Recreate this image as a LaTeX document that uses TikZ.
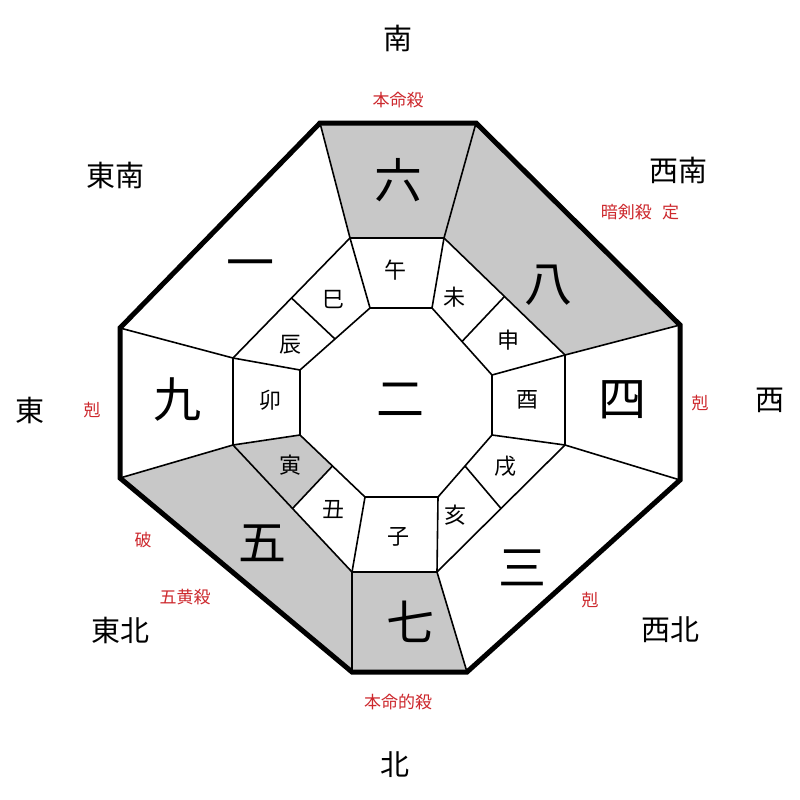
\documentclass[tikz,border=0pt]{standalone}
\usepackage{fontspec}
\usetikzlibrary{calc}
\newfontfamily\cjk{Noto Sans CJK JP}
\begin{document}
\begin{tikzpicture}[x=1pt,y=-1pt,
  big/.style={font=\cjk\fontsize{48}{48}\selectfont},
  br/.style={font=\cjk\fontsize{22}{22}\selectfont},
  dir/.style={font=\cjk\fontsize{29}{29}\selectfont},
  red/.style={font=\cjk\fontsize{17}{17}\selectfont,text=redlab},
  thin/.style={line width=1.6pt},
  shade/.style={fill=shadegray}]
\definecolor{redlab}{RGB}{205,40,45}
\definecolor{shadegray}{RGB}{200,200,200}
\useasboundingbox (0,0) rectangle (800,800);
\fill[white] (0,0) rectangle (800,800);
% outer
\coordinate (O1) at (320,123); \coordinate (O2) at (476,123);
\coordinate (O3) at (680,325); \coordinate (O4) at (680,480);
\coordinate (O5) at (467,672); \coordinate (O6) at (352,672);
\coordinate (O7) at (120,478); \coordinate (O8) at (120,328);
% middle
\coordinate (M1) at (350,238); \coordinate (M2) at (444,238);
\coordinate (M3) at (565,355); \coordinate (M4) at (565,445);
\coordinate (M5) at (437,572); \coordinate (M6) at (352,572);
\coordinate (M7) at (233,445); \coordinate (M8) at (233,358);
% inner
\coordinate (I1) at (370,308); \coordinate (I2) at (432,308);
\coordinate (I3) at (492,375); \coordinate (I4) at (492,435);
\coordinate (I5) at (438,497); \coordinate (I6) at (365,497);
\coordinate (I7) at (300,435); \coordinate (I8) at (300,370);
% shaded sectors
\fill[shade] (O1)--(O2)--(M2)--(M1)--cycle;
\fill[shade] (O2)--(O3)--(M3)--(M2)--cycle;
\fill[shade] (O5)--(O6)--(M6)--(M5)--cycle;
\fill[shade] (O6)--(O7)--(M7)--(M6)--cycle;
\fill[shade] (M7)--($(M7)!0.5!(M6)$)--($(I7)!0.5!(I6)$)--(I7)--cycle;
% spokes
\foreach \i in {1,...,8} \draw[thin] (O\i)--(M\i);
\foreach \i in {1,...,8} \draw[thin] (M\i)--(I\i);
\draw[thin] (M1)--(M2)--(M3)--(M4)--(M5)--(M6)--(M7)--(M8)--cycle;
\draw[thin] (I1)--(I2)--(I3)--(I4)--(I5)--(I6)--(I7)--(I8)--cycle;
\draw[thin] ($(M2)!0.5!(M3)$)--($(I2)!0.5!(I3)$);
\draw[thin] ($(M4)!0.5!(M5)$)--($(I4)!0.5!(I5)$);
\draw[thin] ($(M6)!0.5!(M7)$)--($(I6)!0.5!(I7)$);
\draw[thin] ($(M8)!0.5!(M1)$)--($(I8)!0.5!(I1)$);
\draw[line width=5pt,line join=miter] (O1)--(O2)--(O3)--(O4)--(O5)--(O6)--(O7)--(O8)--cycle;
% numbers
\node[big] (n6) at (398,180) {六};
\node[big] (n8) at (548,285) {八};
\node[big] (n4) at (622,400) {四};
\node[big] (n3) at (522,568) {三};
\node[big] (n7) at (410,622) {七};
\node[big] (n5) at (262,543) {五};
\node[big] (n9) at (177,400) {九};
\node[big] (n1) at (250,270) {一};
\node[big] (n2) at (400,400) {二};
% branches
\node[br] (b1) at (395,270) {午};
\node[br] (b2) at (454,297) {未};
\node[br] (b3) at (508,340) {申};
\node[br] (b4) at (527,400) {酉};
\node[br] (b5) at (505,466) {戌};
\node[br] (b6) at (455,515) {亥};
\node[br] (b7) at (398,537) {子};
\node[br] (b8) at (333,510) {丑};
\node[br] (b9) at (290,465) {寅};
\node[br] (b10) at (270,400) {卯};
\node[br] (b11) at (290,345) {辰};
\node[br] (b12) at (333,300) {巳};
% directions
\node[dir] (dS) at (398,38) {南};
\node[dir] (dSE) at (115,175) {東南};
\node[dir] (dSW) at (678,170) {西南};
\node[dir] (dE) at (30,410) {東};
\node[dir] (dW) at (770,400) {西};
\node[dir] (dNE) at (120,630) {東北};
\node[dir] (dNW) at (670,630) {西北};
\node[dir] (dN) at (395,765) {北};
% red labels
\node[red] (r1) at (398,100) {本命殺};
\node[red] (r2) at (640,212) {暗剣殺\hspace{0.6em}定};
\node[red] (r3) at (700,403) {剋};
\node[red] (r4) at (92,410) {剋};
\node[red] (r5) at (143,540) {破};
\node[red] (r6) at (185,597) {五黄殺};
\node[red] (r7) at (590,600) {剋};
\node[red] (r8) at (398,702) {本命的殺};
\end{tikzpicture}
\end{document}
